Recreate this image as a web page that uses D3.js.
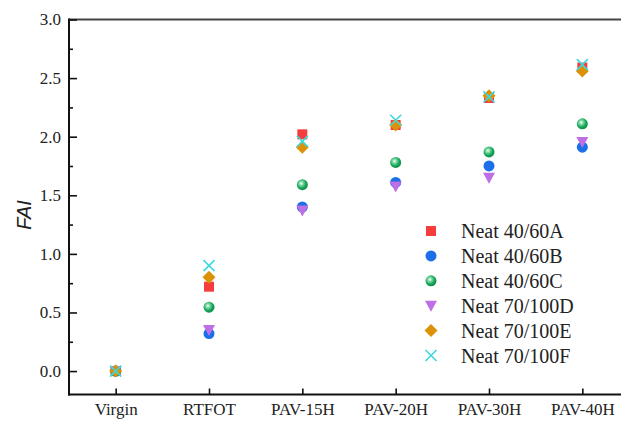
<!DOCTYPE html>
<html>
<head>
<meta charset="utf-8">
<script src="https://cdn.jsdelivr.net/npm/d3@7"></script>
<style>
  html, body { margin: 0; padding: 0; background: #fff; }
  #chart { width: 621px; height: 421px; overflow: hidden; }
</style>
</head>
<body>
<div id="chart"></div>
<script>
const categories = ["Virgin", "RTFOT", "PAV-15H", "PAV-20H", "PAV-30H", "PAV-40H"];
const yTicks = [0.0, 0.5, 1.0, 1.5, 2.0, 2.5, 3.0];
const yMinorTicks = [0.25, 0.75, 1.25, 1.75, 2.25, 2.75];

const neat4060A = [0, 0.72, 2.02, 2.10, 2.33, 2.59];
const neat4060B = [0, 0.32, 1.40, 1.61, 1.75, 1.91];
const neat4060C = [0, 0.545, 1.59, 1.78, 1.87, 2.11];
const neat70100D = [0, 0.35, 1.37, 1.575, 1.65, 1.955];
const neat70100E = [0, 0.80, 1.91, 2.10, 2.35, 2.56];
const neat70100F = [0, 0.90, 1.96, 2.14, 2.34, 2.615];

const series = [
  { name: "Neat 40/60A", values: neat4060A, shape: "square",   color: "#f53d3d" },
  { name: "Neat 40/60B", values: neat4060B, shape: "circle",   color: "#1b6fe8" },
  { name: "Neat 40/60C", values: neat4060C, shape: "ball",     color: "#17a85a" },
  { name: "Neat 70/100D", values: neat70100D, shape: "triangle", color: "#be6fe6" },
  { name: "Neat 70/100E", values: neat70100E, shape: "diamond",  color: "#dc9208" },
  { name: "Neat 70/100F", values: neat70100F, shape: "cross",    color: "#3ed8dc" }
];

const svg = d3.select("#chart").append("svg")
  .attr("width", 621)
  .attr("height", 421);

// green "ball" marker gradient
const grad = svg.append("defs").append("radialGradient")
  .attr("id", "ball").attr("cx", "40%").attr("cy", "38%").attr("r", "60%");
grad.append("stop").attr("offset", "0%").attr("stop-color", "#ffffff");
grad.append("stop").attr("offset", "30%").attr("stop-color", "#7fd9a5");
grad.append("stop").attr("offset", "70%").attr("stop-color", "#17a85a");
grad.append("stop").attr("offset", "100%").attr("stop-color", "#0f8f48");

const x = d3.scaleLinear().domain([0.5, 6.5]).range([69, 629]);
const y = d3.scaleLinear().domain([-0.2, 3.0]).range([394.5, 19.5]);

function drawMarker(g, shape, color) {
  if (shape === "square") {
    g.append("rect").attr("x", -5).attr("y", -5).attr("width", 10).attr("height", 10)
      .attr("fill", color);
  } else if (shape === "circle") {
    g.append("circle").attr("r", 5.5).attr("fill", color);
  } else if (shape === "ball") {
    g.append("circle").attr("r", 5.5).attr("fill", "url(#ball)");
  } else if (shape === "triangle") {
    g.append("path").attr("d", "M-6,-5L6,-5L0,6Z").attr("fill", color);
  } else if (shape === "diamond") {
    g.append("path").attr("d", "M0,-6.5L6.5,0L0,6.5L-6.5,0Z").attr("fill", color);
  } else if (shape === "cross") {
    g.append("path").attr("d", "M-5.5,-5.5L5.5,5.5M-5.5,5.5L5.5,-5.5")
      .attr("stroke", color).attr("stroke-width", 1.6).attr("fill", "none");
  }
}

// frame: top line
svg.append("line")
  .attr("x1", 69).attr("x2", 629)
  .attr("y1", y(3.0)).attr("y2", y(3.0))
  .attr("stroke", "#444").attr("stroke-width", 2);

// Y axis (ticks pointing inward)
const yAxis = svg.append("g")
  .attr("transform", "translate(69,0)")
  .call(d3.axisLeft(y).tickValues(yTicks).tickSize(-8).tickPadding(8).tickFormat(d3.format(".1f")))
  .call((g) => g.select(".domain").remove());
yAxis.selectAll("line").attr("stroke", "#111").attr("stroke-width", 1.6);
yAxis.selectAll("text")
  .attr("fill", "#222").attr("font-family", "'Liberation Serif', 'Times New Roman', serif")
  .attr("font-size", "17px");

// minor y ticks
svg.append("g")
  .attr("transform", "translate(69,0)")
  .call(d3.axisLeft(y).tickValues(yMinorTicks).tickSize(-4).tickFormat(""))
  .call((g) => g.select(".domain").remove())
  .selectAll("line").attr("stroke", "#111").attr("stroke-width", 1.6);

// X axis
const xAxis = svg.append("g")
  .attr("transform", "translate(0,394.5)")
  .call(d3.axisBottom(x).tickValues(d3.range(1, categories.length + 1))
    .tickSize(-6).tickPadding(8).tickFormat((d) => categories[d - 1]))
  .call((g) => g.select(".domain").remove());
xAxis.selectAll("line").attr("stroke", "#111").attr("stroke-width", 1.6);
xAxis.selectAll("text")
  .attr("fill", "#222").attr("font-family", "'Liberation Serif', 'Times New Roman', serif")
  .attr("font-size", "17px");

// axis lines
svg.append("line")
  .attr("x1", 69).attr("x2", 69).attr("y1", 18.5).attr("y2", 395.5)
  .attr("stroke", "#111").attr("stroke-width", 2);
svg.append("line")
  .attr("x1", 68).attr("x2", 629).attr("y1", 394.5).attr("y2", 394.5)
  .attr("stroke", "#111").attr("stroke-width", 2);

// Y axis label
svg.append("text")
  .attr("transform", `translate(31,${(y(3.0) + 394.5) / 2 + 8}) rotate(-90)`)
  .attr("text-anchor", "middle")
  .attr("font-family", "'Liberation Sans', Arial, sans-serif")
  .attr("font-style", "italic")
  .attr("font-size", "20px")
  .attr("fill", "#222")
  .text("FAI");

// points
series.forEach((s) => {
  s.values.forEach((v, i) => {
    const g = svg.append("g").attr("transform", `translate(${x(i + 1)},${y(v)})`);
    drawMarker(g, s.shape, s.color);
  });
});

// legend
const legend = svg.append("g").attr("transform", "translate(431,231)");
series.forEach((s, i) => {
  const row = legend.append("g").attr("transform", `translate(0,${i * 24.9})`);
  drawMarker(row, s.shape, s.color);
  row.append("text")
    .attr("x", 30).attr("dy", "0.35em")
    .attr("font-family", "'Liberation Serif', 'Times New Roman', serif")
    .attr("font-size", "20px")
    .attr("fill", "#222")
    .text(s.name);
});
</script>
</body>
</html>
